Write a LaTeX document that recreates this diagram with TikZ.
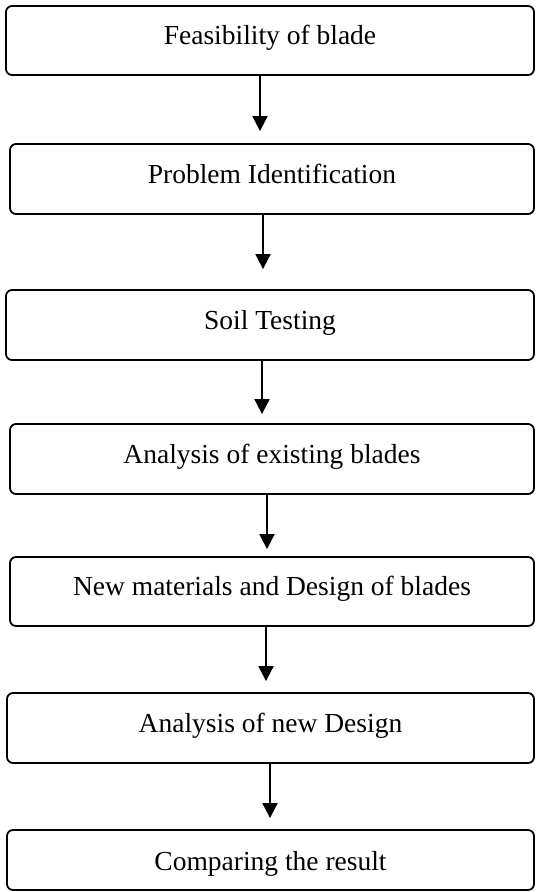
\documentclass[tikz,border=0pt]{standalone}
\usepackage{fontspec}
\setmainfont{Liberation Serif}
\usetikzlibrary{arrows.meta}
\begin{document}
\begin{tikzpicture}[x=1pt,y=-1pt,
  stepbox/.style={draw, line width=1.8pt, rounded corners=6pt, inner sep=0pt,
    font=\fontsize{27.5}{31}\selectfont, text height=14pt, text depth=6pt},
  arr/.style={line width=1.8pt, -{Triangle[width=15pt,length=15pt]}}]
\useasboundingbox[fill=white] (0,0) rectangle (536,892);
\node[stepbox, minimum width=528pt, minimum height=69pt] (n1) at (270,40.5) {Feasibility of blade};
\node[stepbox, minimum width=524pt, minimum height=70pt] (n2) at (272,179) {Problem Identification};
\node[stepbox, minimum width=528pt, minimum height=70pt] (n3) at (270,325) {Soil Testing};
\node[stepbox, minimum width=524pt, minimum height=70pt] (n4) at (272,459) {Analysis of existing blades};
\node[stepbox, minimum width=524pt, minimum height=69pt] (n5) at (272,591.5) {New materials and Design of blades};
\node[stepbox, minimum width=527pt, minimum height=70pt] (n6) at (270.5,728) {Analysis of new Design};
\node[stepbox, minimum width=527pt, minimum height=60pt, text height=22pt, text depth=2pt] (n7) at (270.5,860) {Comparing the result};
\draw[arr, shorten >=12pt] (n1.south -| 260,0) -- (n2.north -| 260,0);
\draw[arr, shorten >=20pt] (n2.south -| 263,0) -- (n3.north -| 263,0);
\draw[arr, shorten >=9pt] (n3.south -| 262,0) -- (n4.north -| 262,0);
\draw[arr, shorten >=7pt] (n4.south -| 267,0) -- (n5.north -| 267,0);
\draw[arr, shorten >=11pt] (n5.south -| 266,0) -- (n6.north -| 266,0);
\draw[arr, shorten >=11pt] (n6.south -| 270,0) -- (n7.north -| 270,0);
\end{tikzpicture}
\end{document}
